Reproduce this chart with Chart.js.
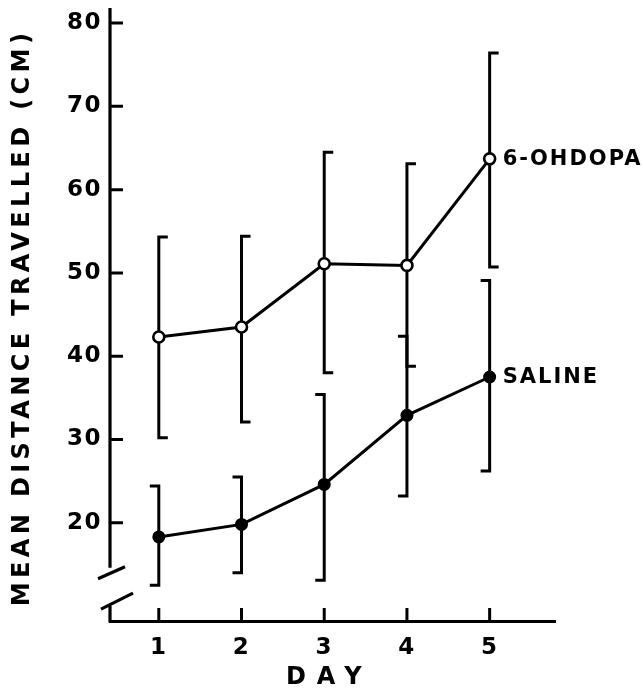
<!DOCTYPE html>
<html>
<head>
<meta charset="utf-8">
<script src="https://cdn.jsdelivr.net/npm/chart.js@4.4.1/dist/chart.umd.min.js"></script>
<style>
  body { margin: 0; background: #fff; }
  canvas { display: block; }
</style>
</head>
<body>
<canvas id="dayChart" width="643" height="690"></canvas>
<script>
// values
const days = [1, 2, 3, 4, 5];
const seriesNames = ['6-OHDOPA', 'SALINE'];
const ohdopaMean = [42.3, 43.5, 51.1, 50.9, 63.7];
const ohdopaHigh = [54.3, 54.4, 64.5, 63.1, 76.4];
const ohdopaLow = [30.2, 32.1, 38.0, 38.8, 50.7];
const salineMean = [18.3, 19.8, 24.6, 32.9, 37.5];
const salineHigh = [24.4, 25.5, 35.4, 42.4, 49.1];
const salineLow = [12.5, 14.0, 13.1, 23.2, 26.2];
const yTicks = [20, 30, 40, 50, 60, 70, 80];
const xTicks = [1, 2, 3, 4, 5];
const yTitle = 'MEAN DISTANCE TRAVELLED (CM)';
const xTitle = 'DAY';
const yBreak = [10.1, 14.6]; // gap in the y axis

const FONT = '"DejaVu Sans", sans-serif';
const ink = '#000';

function toPoints(values) {
    return days.map((d, i) => ({ x: d, y: values[i] }));
}

const handDrawn = {
    id: 'handDrawn',
    beforeDraw(chart) {
        chart.ctx.letterSpacing = '1.5px'; // tick labels are a bit spaced out
    },
    beforeDatasetsDraw(chart) {
        const { ctx, chartArea, scales: { x, y } } = chart;
        const ax = chartArea.left;
        ctx.save();
        ctx.strokeStyle = ink;
        ctx.lineWidth = 3.2;
        ctx.lineCap = 'butt';

        // y axis, broken near the bottom
        const breakTop = y.getPixelForValue(yBreak[1]);
        const breakBottom = y.getPixelForValue(yBreak[0]);
        ctx.beginPath();
        ctx.moveTo(ax, chartArea.top);
        ctx.lineTo(ax, breakTop);
        ctx.moveTo(ax, breakBottom);
        ctx.lineTo(ax, chartArea.bottom + 1.5);
        ctx.moveTo(ax - 12, breakTop + 11);
        ctx.lineTo(ax + 15, breakTop - 1);
        ctx.moveTo(ax - 9, breakBottom + 4);
        ctx.lineTo(ax + 23, breakBottom - 12);
        ctx.stroke();

        // inward tick marks
        ctx.lineWidth = 3;
        ctx.beginPath();
        yTicks.forEach(v => {
            const py = y.getPixelForValue(v);
            ctx.moveTo(ax, py);
            ctx.lineTo(ax + 13, py);
        });
        xTicks.forEach(v => {
            const px = x.getPixelForValue(v);
            ctx.moveTo(px, chartArea.bottom);
            ctx.lineTo(px, chartArea.bottom - 13);
        });
        ctx.stroke();

        // error bars, caps point right for 6-OHDOPA and left for saline
        chart.data.datasets.forEach(ds => {
            ctx.beginPath();
            days.forEach((d, i) => {
                const px = x.getPixelForValue(d);
                const hi = y.getPixelForValue(ds.high[i]);
                const lo = y.getPixelForValue(ds.low[i]);
                const cap = 9 * ds.capSide;
                ctx.moveTo(px + cap, hi);
                ctx.lineTo(px, hi);
                ctx.lineTo(px, lo);
                ctx.lineTo(px + cap, lo);
            });
            ctx.stroke();
        });
        ctx.restore();
    },
    afterDraw(chart) {
        const { ctx, chartArea, scales: { x, y } } = chart;
        ctx.save();
        ctx.fillStyle = ink;
        ctx.textBaseline = 'middle';

        // series names next to the last point
        ctx.font = 'bold 21px ' + FONT;
        ctx.letterSpacing = '2px';
        ctx.textAlign = 'left';
        chart.data.datasets.forEach((ds, i) => {
            const last = ds.data[ds.data.length - 1];
            ctx.fillText(seriesNames[i], x.getPixelForValue(last.x) + 13, y.getPixelForValue(last.y) + 1);
        });

        // axis titles
        ctx.textAlign = 'center';
        ctx.font = 'bold 24px ' + FONT;
        ctx.letterSpacing = '11px';
        ctx.fillText(xTitle, x.getPixelForValue(3) + 5, chartArea.bottom + 57);

        ctx.letterSpacing = '4.4px';
        ctx.translate(23, (chartArea.top + chartArea.bottom) / 2 + 3);
        ctx.rotate(-Math.PI / 2);
        ctx.fillText(yTitle, 0, 0);
        ctx.restore();
        ctx.letterSpacing = '0px';
    }
};

new Chart(document.getElementById('dayChart'), {
    type: 'line',
    data: {
        datasets: [{
            label: seriesNames[0],
            data: toPoints(ohdopaMean),
            high: ohdopaHigh,
            low: ohdopaLow,
            capSide: 1,
            borderColor: ink,
            borderWidth: 3,
            pointRadius: 5.5,
            pointBorderWidth: 2.6,
            pointBackgroundColor: '#fff',
            pointBorderColor: ink,
            tension: 0,
            clip: false
        }, {
            label: seriesNames[1],
            data: toPoints(salineMean),
            high: salineHigh,
            low: salineLow,
            capSide: -1,
            borderColor: ink,
            borderWidth: 3,
            pointRadius: 6.5,
            pointBorderWidth: 0,
            pointBackgroundColor: ink,
            pointBorderColor: ink,
            tension: 0,
            clip: false
        }]
    },
    options: {
        responsive: false,
        animation: false,
        events: [],
        layout: { padding: { top: 8, right: 88, bottom: 0, left: 0 } },
        plugins: {
            legend: { display: false },
            tooltip: { enabled: false }
        },
        scales: {
            x: {
                type: 'linear',
                min: 0.41,
                max: 5.79,
                afterFit: s => { s.height = 69; s.paddingLeft = 0; s.paddingRight = 0; },
                afterBuildTicks: s => { s.ticks = xTicks.map(v => ({ value: v })); },
                grid: { display: false, drawTicks: false },
                border: { display: true, color: ink, width: 3 },
                ticks: {
                    color: ink,
                    padding: 13,
                    font: { family: FONT, size: 23, weight: 'bold' }
                }
            },
            y: {
                type: 'linear',
                min: 8.2,
                max: 81.8,
                afterFit: s => { s.width = 110; s.paddingTop = 0; s.paddingBottom = 0; },
                afterBuildTicks: s => { s.ticks = yTicks.map(v => ({ value: v })); },
                grid: { display: false, drawTicks: false },
                border: { display: false },
                ticks: {
                    color: ink,
                    padding: 8,
                    font: { family: FONT, size: 23, weight: 'bold' }
                }
            }
        }
    },
    plugins: [handDrawn]
});
</script>
</body>
</html>
